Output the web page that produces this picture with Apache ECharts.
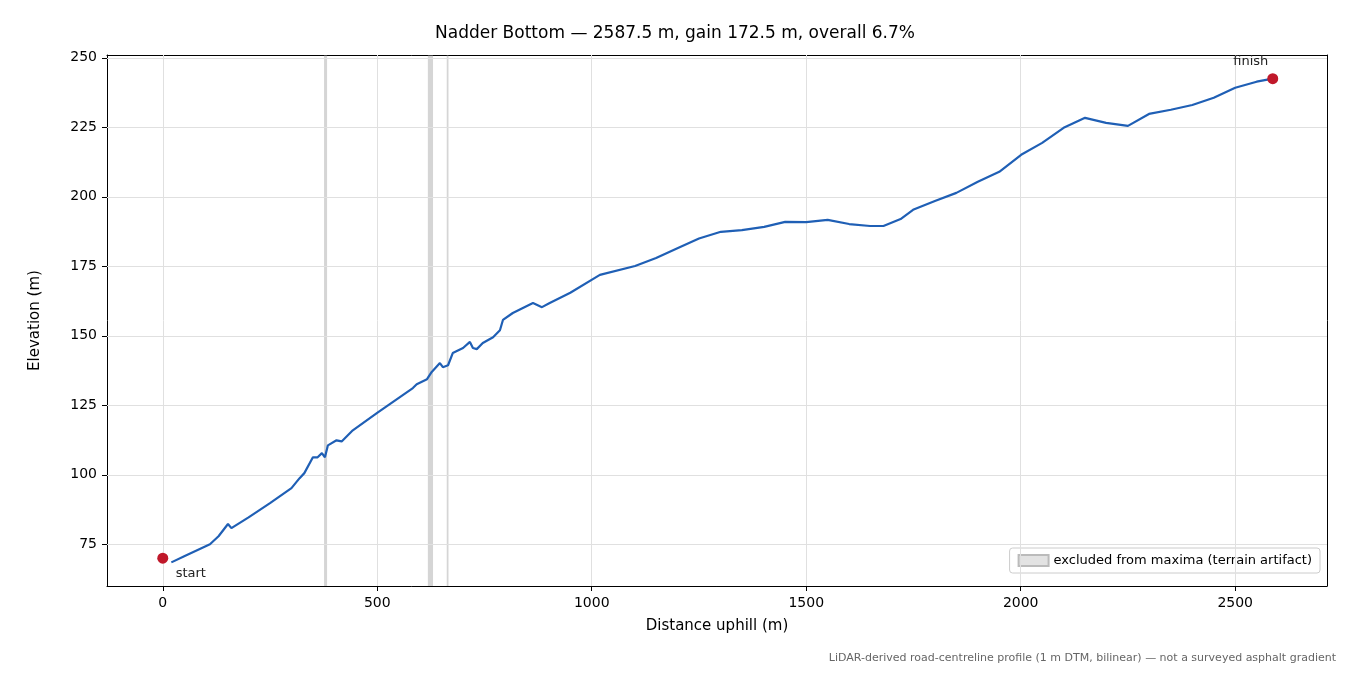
<!DOCTYPE html>
<html><head><meta charset="utf-8">
<script src="https://cdn.jsdelivr.net/npm/echarts@6/dist/echarts.min.js"></script>
<style>html,body{margin:0;background:#fff}#c{width:1350px;height:675px}</style>
</head><body><div id="c"></div>
<script>
const distance = [20,50,100,110,130,152,160,200,250,300,319,330,350,361,371,378,385,405,417,443,499,583,592,616,627,646,653,665,676,700,716,723,732,746,770,786,793,816,863,884,902,950,1019,1101,1150,1201,1250,1301,1350,1402,1451,1500,1550,1600,1649,1680,1720,1749,1800,1850,1900,1950,2001,2050,2100,2150,2199,2250,2299,2350,2400,2450,2500,2550,2587.5];
const elevation = [68.5,70.7,74.3,75,77.9,82.3,80.8,84.7,89.8,95.2,98.8,100.6,106.3,106.3,107.8,106.3,110.6,112.4,112,116,122.2,131.2,132.6,134.4,137,140.2,138.7,139.4,143.8,145.6,147.8,145.6,145.2,147.4,149.5,152,155.7,158.2,161.8,160.3,161.8,165.5,171.9,175.1,178,181.6,185,187.4,188,189.2,191,190.9,191.7,190.2,189.5,189.5,192,195.3,198.5,201.4,205.4,209,215.1,219.4,224.8,228.4,226.6,225.5,229.8,231.3,233,235.6,239.2,241.4,242.5];
const endpoints = [[0,70,'start'],[2587.5,242.5,'finish']];
const excludedBands = [[376,383],[618,630],[662,666]];
const xTicks = [0,500,1000,1500,2000,2500];
const yTicks = [75,100,125,150,175,200,225,250];

const F = 'DejaVu Sans';
const axLine = {show:true,onZero:false,lineStyle:{color:'#000',width:1}};
const chart = echarts.init(document.getElementById('c'));
chart.setOption({
  animation:false,
  textStyle:{fontFamily:F},
  title:{text:'Nadder Bottom — 2587.5 m, gain 172.5 m, overall 6.7%',left:'center',top:20,textStyle:{fontFamily:F,fontSize:17,fontWeight:'normal',color:'#000'}},
  graphic:[{type:'text',right:14,top:653,style:{text:'LiDAR-derived road-centreline profile (1 m DTM, bilinear) — not a surveyed asphalt gradient',fill:'#666',font:'11px DejaVu Sans'}}],
  legend:{right:30,top:548,orient:'vertical',data:[{name:'excluded from maxima (terrain artifact)',icon:'rect'}],itemWidth:30,itemHeight:11,
    backgroundColor:'#fff',borderColor:'#ccc',borderWidth:1,borderRadius:3,padding:[6,8],textStyle:{fontFamily:F,fontSize:13,color:'#000'}},
  grid:{left:107,right:23,top:55,bottom:89},
  xAxis:[{type:'value',min:-130,max:2714,name:'Distance uphill (m)',nameLocation:'middle',nameGap:33,nameTextStyle:{fontFamily:F,fontSize:15,color:'#000'},
    axisLine:axLine,axisLabel:{color:'#000',fontSize:14,fontFamily:F,customValues:xTicks,formatter:v=>String(v),margin:10},
    axisTick:{customValues:xTicks,length:5,lineStyle:{color:'#000'}},splitLine:{show:false}},
    {type:'value',position:'top',min:-130,max:2714,axisLine:axLine,axisLabel:{show:false},axisTick:{show:false},splitLine:{show:false}}],
  yAxis:[{type:'value',min:60,max:251,name:'Elevation (m)',nameLocation:'middle',nameGap:64,nameTextStyle:{fontFamily:F,fontSize:15,color:'#000'},
    axisLine:axLine,axisLabel:{color:'#000',fontSize:14,fontFamily:F,customValues:yTicks,margin:10},
    axisTick:{customValues:yTicks,length:5,lineStyle:{color:'#000'}},splitLine:{show:false}},
    {type:'value',position:'right',min:60,max:251,axisLine:axLine,axisLabel:{show:false},axisTick:{show:false},splitLine:{show:false}}],
  series:[
    {type:'line',silent:true,data:[],symbol:'none',
      markLine:{silent:true,symbol:'none',label:{show:false},lineStyle:{color:'#e0e0e0',type:'solid',width:1},
        data:xTicks.map(v=>({xAxis:v})).concat(yTicks.map(v=>({yAxis:v})))}},
    {name:'excluded from maxima (terrain artifact)',type:'bar',data:[],itemStyle:{color:'#e3e3e3',borderColor:'#bbb',borderWidth:1},
      markArea:{silent:true,itemStyle:{color:'rgba(150,150,150,0.4)'},data:excludedBands.map(b=>[{xAxis:b[0]},{xAxis:b[1]}])}},
    {type:'line',data:distance.map((d,i)=>[d,elevation[i]]),symbol:'none',lineStyle:{color:'#1f5fb5',width:2.2},z:5},
    {type:'scatter',data:endpoints.map(p=>[p[0],p[1]]),symbolSize:11,itemStyle:{color:'#c0182a',opacity:1},z:6,
      label:{show:true,fontFamily:F,fontSize:13,color:'#222',formatter:p=>endpoints[p.dataIndex][2],position:'bottom'},
      labelLayout:p=>p.dataIndex===0?{dx:28,dy:-2}:{dx:-22,dy:-34}}
  ]
});
</script></body></html>
